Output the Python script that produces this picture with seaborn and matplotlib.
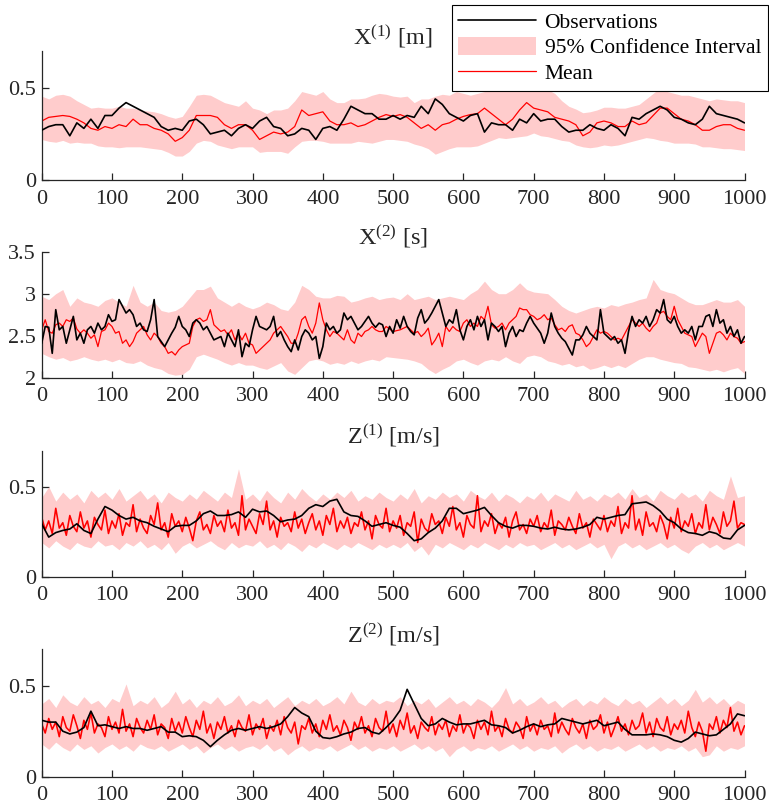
import numpy as np
import matplotlib
matplotlib.use("Agg")
import matplotlib.pyplot as plt
import seaborn as sns
from matplotlib.patches import Patch
from matplotlib.lines import Line2D

# ---------------- data ----------------
t10 = np.arange(0, 1001, 10)
t5 = np.arange(0, 1001, 5)

# X(1) [m]
x1_obs = [0.27, 0.29, 0.30, 0.30, 0.24, 0.31, 0.28, 0.33, 0.28, 0.35,
          0.35, 0.39, 0.42, 0.40, 0.38, 0.36, 0.34, 0.29, 0.27, 0.28,
          0.27, 0.32, 0.33, 0.30, 0.25, 0.26, 0.27, 0.24, 0.28, 0.30,
          0.28, 0.32, 0.34, 0.29, 0.28, 0.24, 0.25, 0.28, 0.27, 0.22,
          0.28, 0.29, 0.27, 0.33, 0.40, 0.38, 0.36, 0.36, 0.33,
          0.33, 0.35, 0.33, 0.35, 0.34, 0.40, 0.36, 0.44, 0.41, 0.36,
          0.34, 0.32, 0.35, 0.36, 0.26, 0.31, 0.30, 0.30, 0.27, 0.33,
          0.31, 0.36, 0.32, 0.33, 0.33, 0.29, 0.26, 0.27, 0.27, 0.30,
          0.28, 0.27, 0.30, 0.28, 0.24, 0.34, 0.33, 0.36, 0.38, 0.40,
          0.38, 0.34, 0.33, 0.31, 0.30, 0.33, 0.40, 0.36, 0.35, 0.34,
          0.33, 0.31]
x1_mean = [0.32, 0.34, 0.345, 0.35, 0.345, 0.33, 0.31, 0.28, 0.27, 0.29,
           0.28, 0.30, 0.29, 0.33, 0.30, 0.30, 0.28, 0.27, 0.25, 0.21,
           0.23, 0.27, 0.35, 0.35, 0.35, 0.34, 0.30, 0.28, 0.30, 0.30,
           0.27, 0.22, 0.24, 0.26, 0.25, 0.26, 0.29, 0.38, 0.35, 0.36,
           0.37, 0.32, 0.30, 0.30, 0.31, 0.29, 0.30, 0.32, 0.34,
           0.355, 0.345, 0.355, 0.34, 0.31, 0.28, 0.30, 0.27, 0.30, 0.31,
           0.33, 0.345, 0.355, 0.36, 0.39, 0.36, 0.33, 0.30, 0.33, 0.38,
           0.42, 0.39, 0.38, 0.37, 0.34, 0.33, 0.32, 0.30, 0.24, 0.26,
           0.31, 0.32, 0.31, 0.29, 0.29, 0.32, 0.30, 0.31, 0.35, 0.39,
           0.39, 0.36, 0.33, 0.32, 0.30, 0.27, 0.27, 0.29, 0.30, 0.30,
           0.28, 0.27]
x1_hi = [0.455, 0.44, 0.46, 0.465, 0.455, 0.43, 0.41, 0.39, 0.395, 0.39,
         0.39, 0.40, 0.39, 0.39, 0.38, 0.375, 0.37, 0.36, 0.345, 0.335,
         0.345, 0.40, 0.46, 0.465, 0.46, 0.44, 0.42, 0.41, 0.40, 0.43,
         0.39, 0.38, 0.36, 0.38, 0.38, 0.39, 0.43, 0.48, 0.47, 0.46,
         0.48, 0.44, 0.42, 0.42, 0.44, 0.44, 0.445, 0.46, 0.47,
         0.465, 0.455, 0.45, 0.455, 0.42, 0.44, 0.44, 0.455, 0.465, 0.46,
         0.48, 0.47, 0.46, 0.47, 0.48, 0.49, 0.49, 0.50, 0.49, 0.50,
         0.51, 0.49, 0.50, 0.49, 0.47, 0.43, 0.40, 0.385, 0.365, 0.37,
         0.38, 0.395, 0.395, 0.39, 0.39, 0.40, 0.41, 0.44, 0.47, 0.50,
         0.48, 0.47, 0.46, 0.46, 0.45, 0.44, 0.43, 0.44, 0.435, 0.43,
         0.43, 0.42]
x1_lo = [0.22, 0.21, 0.205, 0.215, 0.20, 0.205, 0.20, 0.20, 0.185, 0.18,
         0.18, 0.175, 0.18, 0.18, 0.18, 0.175, 0.17, 0.165, 0.15, 0.13,
         0.13, 0.155, 0.20, 0.215, 0.21, 0.19, 0.18, 0.17, 0.18, 0.18,
         0.18, 0.15, 0.155, 0.155, 0.155, 0.145, 0.18, 0.21, 0.215, 0.215,
         0.21, 0.20, 0.20, 0.20, 0.20, 0.21, 0.205, 0.20, 0.21,
         0.22, 0.22, 0.215, 0.21, 0.195, 0.185, 0.17, 0.14, 0.155, 0.17,
         0.18, 0.18, 0.18, 0.185, 0.20, 0.215, 0.23, 0.225, 0.23, 0.235,
         0.24, 0.255, 0.24, 0.235, 0.225, 0.215, 0.21, 0.19, 0.18, 0.175,
         0.18, 0.19, 0.185, 0.19, 0.20, 0.21, 0.22, 0.23, 0.225, 0.215,
         0.21, 0.20, 0.20, 0.20, 0.195, 0.18, 0.18, 0.175, 0.17, 0.17,
         0.165, 0.16]

# X(2) [s]
x2_obs = [2.41, 2.61, 2.60, 2.29, 2.81, 2.57, 2.61, 2.41, 2.57, 2.73,
          2.45, 2.53, 2.41, 2.57, 2.61, 2.53, 2.65, 2.57, 2.61, 2.75,
          2.67, 2.69, 2.93, 2.85, 2.77, 2.81, 2.75, 2.61, 2.65, 2.57,
          2.55, 2.69, 2.93, 2.49, 2.43, 2.37, 2.45, 2.53, 2.60, 2.73,
          2.61, 2.57, 2.49, 2.65, 2.69, 2.65, 2.57, 2.61, 2.53, 2.45,
          2.47, 2.49, 2.37, 2.53, 2.45, 2.37, 2.57, 2.25, 2.41, 2.37,
          2.57, 2.73, 2.61, 2.59, 2.57, 2.61, 2.73, 2.49, 2.55, 2.45,
          2.37, 2.31, 2.45, 2.33, 2.49, 2.57, 2.53, 2.45, 2.49, 2.23,
          2.37, 2.65, 2.57, 2.61, 2.53, 2.57, 2.77, 2.69, 2.73, 2.65,
          2.57, 2.61, 2.67, 2.73, 2.65, 2.60, 2.65,
          2.63, 2.49, 2.61, 2.53, 2.69, 2.59, 2.73, 2.61, 2.55, 2.51,
          2.71, 2.81, 2.65, 2.70, 2.77, 2.85, 2.93, 2.77, 2.61, 2.69,
          2.65, 2.81, 2.57, 2.45, 2.61, 2.69, 2.57, 2.73, 2.61, 2.69,
          2.45, 2.65, 2.61, 2.55, 2.61, 2.37, 2.53, 2.61, 2.49, 2.57,
          2.55, 2.65, 2.73, 2.65, 2.59, 2.53, 2.41, 2.53, 2.77, 2.61,
          2.53, 2.47, 2.43, 2.35, 2.27, 2.45, 2.45, 2.51, 2.61, 2.53,
          2.49, 2.45, 2.81, 2.53, 2.49, 2.45, 2.49, 2.41, 2.45, 2.29,
          2.55, 2.73, 2.61, 2.69, 2.65, 2.73, 2.61, 2.69, 2.81, 2.77,
          2.93, 2.69, 2.65, 2.73, 2.61, 2.53, 2.57, 2.53, 2.61, 2.45,
          2.61, 2.61, 2.73, 2.75, 2.61, 2.81, 2.65, 2.69, 2.53, 2.61,
          2.49, 2.57, 2.41, 2.49]
x2_mean = [2.57, 2.69, 2.55, 2.53, 2.63, 2.65, 2.61, 2.69, 2.67, 2.71,
           2.58, 2.53, 2.57, 2.53, 2.47, 2.51, 2.37, 2.55, 2.57, 2.65,
           2.61, 2.53, 2.55, 2.41, 2.45, 2.37, 2.43, 2.53, 2.57, 2.61,
           2.51, 2.45, 2.53, 2.49, 2.41, 2.37, 2.29, 2.31, 2.27, 2.33,
           2.37, 2.39, 2.41, 2.61, 2.69, 2.71, 2.67, 2.69, 2.81, 2.63,
           2.59, 2.55, 2.57, 2.51, 2.57, 2.45, 2.53, 2.45, 2.53, 2.41,
           2.39, 2.29, 2.33, 2.37, 2.41, 2.45, 2.53, 2.57, 2.61, 2.55,
           2.49, 2.41, 2.41, 2.53, 2.69, 2.73, 2.61, 2.53, 2.65, 2.89,
           2.69, 2.57, 2.49, 2.55, 2.53, 2.49, 2.45, 2.57, 2.45, 2.41,
           2.53, 2.49, 2.55, 2.57, 2.61, 2.57, 2.55,
           2.55, 2.61, 2.58, 2.55, 2.56, 2.57, 2.59, 2.61, 2.57, 2.53,
           2.55, 2.49, 2.53, 2.59, 2.39, 2.45, 2.53, 2.37, 2.61, 2.55,
           2.61, 2.57, 2.55, 2.65, 2.69, 2.61, 2.65, 2.61, 2.73, 2.69,
           2.85, 2.63, 2.59, 2.61, 2.65, 2.57, 2.65, 2.69, 2.73, 2.83,
           2.81, 2.81, 2.75, 2.73, 2.69, 2.71, 2.75, 2.69, 2.71, 2.63,
           2.57, 2.59, 2.55, 2.61, 2.63, 2.53, 2.51, 2.45, 2.37, 2.41,
           2.49, 2.57, 2.53, 2.55, 2.53, 2.49, 2.45, 2.47, 2.45, 2.53,
           2.61, 2.69, 2.65, 2.61, 2.65, 2.59, 2.55, 2.61, 2.65, 2.77,
           2.79, 2.73, 2.69, 2.85, 2.69, 2.61, 2.53, 2.51, 2.49, 2.37,
           2.45, 2.53, 2.49, 2.29, 2.41, 2.53, 2.55, 2.51, 2.45, 2.53,
           2.49, 2.47, 2.41, 2.43]
x2_hi = [2.97, 2.93, 3.00, 3.05, 2.85, 2.95, 2.90, 2.88, 2.85, 2.92,
         2.95, 2.90, 2.85, 3.10, 2.90, 2.85, 2.90, 2.80, 2.78, 2.80,
         2.85, 2.95, 3.05, 3.05, 3.09, 2.95, 2.90, 2.85, 2.90, 2.85,
         2.82, 2.85, 2.90, 2.87, 2.82, 2.80, 2.90, 3.10, 3.05, 2.97,
         2.95, 2.95, 2.98, 2.97, 2.90, 2.92, 2.95, 2.97, 2.93,
         2.95, 2.96, 2.93, 3.00, 2.93, 2.95, 2.97, 2.93, 2.95, 2.97,
         2.95, 2.93, 3.00, 3.05, 3.15, 3.05, 3.00, 3.00, 3.05, 3.13,
         3.05, 3.02, 3.01, 3.00, 2.93, 2.85, 2.80, 2.77, 2.80, 2.83,
         2.85, 2.83, 2.87, 2.85, 2.88, 2.90, 2.93, 2.95, 3.17, 3.05,
         3.02, 3.00, 2.95, 2.90, 2.87, 2.87, 2.90, 2.93, 2.90, 2.90,
         2.93, 2.85]
x2_lo = [2.29, 2.25, 2.22, 2.24, 2.20, 2.22, 2.25, 2.22, 2.20, 2.22,
         2.19, 2.22, 2.18, 2.17, 2.20, 2.15, 2.12, 2.10, 2.05, 2.03,
         2.04, 2.10, 2.25, 2.28, 2.25, 2.22, 2.18, 2.15, 2.18, 2.15,
         2.15, 2.12, 2.10, 2.14, 2.18, 2.08, 2.04, 2.12, 2.20, 2.22,
         2.20, 2.16, 2.18, 2.16, 2.20, 2.17, 2.20, 2.22, 2.20,
         2.25, 2.24, 2.23, 2.22, 2.20, 2.17, 2.10, 2.05, 2.10, 2.14,
         2.20, 2.22, 2.18, 2.15, 2.20, 2.22, 2.20, 2.25, 2.20, 2.17,
         2.25, 2.27, 2.25, 2.20, 2.18, 2.15, 2.17, 2.13, 2.15, 2.10,
         2.12, 2.15, 2.12, 2.15, 2.12, 2.17, 2.22, 2.25, 2.25, 2.22,
         2.20, 2.18, 2.17, 2.13, 2.12, 2.10, 2.08, 2.10, 2.07, 2.10,
         2.12, 2.05]

# Z(1) [m/s]
z1_obs = [0.294, 0.22, 0.245, 0.257, 0.265, 0.294, 0.257, 0.24, 0.32, 0.39,
          0.37, 0.34, 0.32, 0.33, 0.31, 0.30, 0.28, 0.265, 0.25, 0.28,
          0.285, 0.285, 0.31, 0.35, 0.365, 0.34, 0.34, 0.345, 0.36, 0.33,
          0.375, 0.36, 0.365, 0.34, 0.305, 0.315, 0.32, 0.34, 0.38, 0.40,
          0.39, 0.42, 0.43, 0.36, 0.34, 0.335, 0.31, 0.28, 0.29,
          0.30, 0.285, 0.275, 0.24, 0.20, 0.21, 0.245, 0.27, 0.31, 0.38,
          0.38, 0.35, 0.36, 0.37, 0.385, 0.34, 0.30, 0.28, 0.27, 0.285,
          0.285, 0.28, 0.27, 0.265, 0.275, 0.265, 0.26, 0.265, 0.275, 0.29,
          0.33, 0.32, 0.33, 0.34, 0.345, 0.405, 0.41, 0.415, 0.395, 0.365,
          0.32, 0.30, 0.265, 0.245, 0.24, 0.23, 0.25, 0.24, 0.215, 0.21,
          0.26, 0.285]
z1_mean = [0.33, 0.26, 0.31, 0.24, 0.38, 0.27, 0.30, 0.23, 0.34, 0.28,
           0.25, 0.36, 0.27, 0.31, 0.22, 0.33, 0.29, 0.26, 0.37, 0.24,
           0.31, 0.27, 0.35, 0.23, 0.30, 0.28, 0.40, 0.25, 0.32, 0.27,
           0.24, 0.34, 0.29, 0.41, 0.26, 0.30, 0.22, 0.35, 0.28, 0.31,
           0.25, 0.33, 0.27, 0.20, 0.31, 0.36, 0.26, 0.29, 0.24, 0.34,
           0.28, 0.31, 0.25, 0.37, 0.27, 0.30, 0.23, 0.45, 0.26, 0.32,
           0.28, 0.24, 0.35, 0.29, 0.42, 0.26, 0.31, 0.22, 0.33, 0.28,
           0.30, 0.25, 0.36, 0.27, 0.32, 0.24, 0.30, 0.35, 0.26, 0.31,
           0.23, 0.34, 0.29, 0.38, 0.25, 0.31, 0.27, 0.33, 0.24, 0.30,
           0.28, 0.36, 0.26, 0.31, 0.21, 0.34, 0.29, 0.27, 0.38, 0.25,
           0.31, 0.27, 0.34, 0.23, 0.30, 0.28, 0.36, 0.19, 0.32, 0.27,
           0.25, 0.35, 0.29, 0.31, 0.24, 0.33, 0.28, 0.39, 0.26, 0.30,
           0.22, 0.34, 0.29, 0.27, 0.45, 0.25, 0.31, 0.28, 0.35, 0.24,
           0.30, 0.27, 0.33, 0.22, 0.31, 0.36, 0.26, 0.29, 0.24, 0.32,
           0.28, 0.34, 0.25, 0.30, 0.27, 0.37, 0.23, 0.31, 0.29, 0.26,
           0.33, 0.28, 0.24, 0.35, 0.27, 0.30, 0.22, 0.32, 0.29, 0.26,
           0.34, 0.25, 0.31, 0.28, 0.39, 0.24, 0.30, 0.27, 0.45, 0.26,
           0.32, 0.23, 0.36, 0.28, 0.30, 0.25, 0.34, 0.29, 0.21, 0.33,
           0.27, 0.38, 0.25, 0.31, 0.28, 0.35, 0.24, 0.30, 0.27, 0.40,
           0.26, 0.33, 0.29, 0.24, 0.36, 0.28, 0.31, 0.42, 0.27, 0.30,
           0.29]
z1_hi = [0.44, 0.50, 0.42, 0.47, 0.43, 0.46, 0.41, 0.48, 0.44, 0.47,
         0.43, 0.49, 0.42, 0.45, 0.48, 0.43, 0.46, 0.41, 0.47, 0.44,
         0.42, 0.46, 0.43, 0.48, 0.45, 0.42, 0.47, 0.44, 0.60, 0.43,
         0.46, 0.42, 0.48, 0.44, 0.41, 0.47, 0.43, 0.49, 0.45, 0.42,
         0.46, 0.43, 0.47, 0.44, 0.48, 0.42, 0.45, 0.43, 0.47, 0.44,
         0.42, 0.46, 0.43, 0.49, 0.41, 0.45, 0.43, 0.47, 0.44, 0.46,
         0.42, 0.48, 0.45, 0.43, 0.47, 0.42, 0.46, 0.44, 0.41, 0.45,
         0.43, 0.47, 0.42, 0.46, 0.44, 0.42, 0.48, 0.43, 0.45, 0.42,
         0.46, 0.44, 0.47, 0.43, 0.49, 0.44, 0.46, 0.42, 0.48, 0.45,
         0.43, 0.47, 0.44, 0.46, 0.42, 0.48, 0.45, 0.43, 0.56, 0.44,
         0.45]
z1_lo = [0.19, 0.16, 0.20, 0.17, 0.15, 0.19, 0.17, 0.16, 0.20, 0.17,
         0.18, 0.15, 0.19, 0.17, 0.20, 0.16, 0.18, 0.15, 0.19, 0.13,
         0.17, 0.19, 0.16, 0.18, 0.20, 0.17, 0.15, 0.19, 0.16, 0.18,
         0.17, 0.20, 0.16, 0.18, 0.15, 0.19, 0.17, 0.14, 0.18, 0.16,
         0.19, 0.17, 0.15, 0.18, 0.16, 0.19, 0.17, 0.15, 0.18, 0.16,
         0.18, 0.16, 0.19, 0.14, 0.17, 0.12, 0.18, 0.16, 0.19, 0.17,
         0.15, 0.18, 0.16, 0.19, 0.17, 0.15, 0.18, 0.16, 0.19, 0.17,
         0.18, 0.15, 0.17, 0.19, 0.16, 0.18, 0.15, 0.17, 0.19, 0.16,
         0.18, 0.10, 0.17, 0.19, 0.16, 0.18, 0.15, 0.17, 0.19, 0.16,
         0.18, 0.15, 0.13, 0.17, 0.19, 0.16, 0.18, 0.15, 0.17, 0.19,
         0.17]

# Z(2) [m/s]
z2_obs = [0.31, 0.30, 0.30, 0.25, 0.235, 0.245, 0.27, 0.36, 0.28, 0.285,
          0.275, 0.265, 0.275, 0.265, 0.265, 0.255, 0.265, 0.275, 0.245, 0.245,
          0.22, 0.225, 0.22, 0.20, 0.165, 0.20, 0.23, 0.255, 0.265, 0.255,
          0.265, 0.275, 0.265, 0.275, 0.29, 0.33, 0.38, 0.35, 0.33, 0.25,
          0.215, 0.21, 0.22, 0.235, 0.245, 0.265, 0.27, 0.245, 0.235,
          0.27, 0.31, 0.365, 0.48, 0.40, 0.32, 0.28, 0.29, 0.32, 0.30,
          0.285, 0.29, 0.29, 0.30, 0.31, 0.285, 0.28, 0.27, 0.24, 0.255,
          0.275, 0.29, 0.275, 0.285, 0.29, 0.32, 0.31, 0.30, 0.29, 0.30,
          0.31, 0.28, 0.29, 0.30, 0.26, 0.23, 0.23, 0.23, 0.235, 0.23,
          0.22, 0.20, 0.19, 0.21, 0.245, 0.235, 0.225, 0.23, 0.26, 0.29,
          0.345, 0.335]
z2_mean = [0.29, 0.24, 0.32, 0.26, 0.30, 0.22, 0.33, 0.27, 0.25, 0.34,
           0.28, 0.21, 0.31, 0.26, 0.35, 0.24, 0.29, 0.27, 0.22, 0.33,
           0.26, 0.30, 0.24, 0.37, 0.25, 0.29, 0.22, 0.32, 0.27, 0.24,
           0.31, 0.26, 0.34, 0.23, 0.29, 0.27, 0.21, 0.32, 0.25, 0.30,
           0.24, 0.33, 0.27, 0.22, 0.31, 0.26, 0.36, 0.24, 0.29, 0.21,
           0.30, 0.26, 0.33, 0.24, 0.28, 0.22, 0.31, 0.27, 0.25, 0.34,
           0.23, 0.29, 0.26, 0.32, 0.21, 0.28, 0.25, 0.31, 0.23, 0.33,
           0.27, 0.24, 0.30, 0.18, 0.28, 0.26, 0.32, 0.24, 0.29, 0.22,
           0.31, 0.26, 0.34, 0.25, 0.28, 0.23, 0.31, 0.27, 0.20, 0.30,
           0.26, 0.33, 0.24, 0.28, 0.22, 0.32, 0.27, 0.25, 0.36, 0.24,
           0.29, 0.22, 0.31, 0.26, 0.35, 0.24, 0.28, 0.21, 0.30, 0.27,
           0.25, 0.33, 0.23, 0.29, 0.26, 0.31, 0.22, 0.28, 0.25, 0.34,
           0.24, 0.29, 0.27, 0.21, 0.31, 0.26, 0.30, 0.23, 0.36, 0.25,
           0.28, 0.22, 0.32, 0.26, 0.24, 0.30, 0.27, 0.21, 0.33, 0.25,
           0.29, 0.23, 0.31, 0.26, 0.28, 0.22, 0.35, 0.24, 0.30, 0.26,
           0.23, 0.32, 0.27, 0.24, 0.29, 0.21, 0.31, 0.26, 0.28, 0.34,
           0.24, 0.30, 0.22, 0.27, 0.33, 0.25, 0.29, 0.23, 0.31, 0.26,
           0.28, 0.35, 0.24, 0.30, 0.22, 0.32, 0.27, 0.25, 0.33, 0.23,
           0.29, 0.26, 0.31, 0.24, 0.36, 0.27, 0.22, 0.30, 0.25, 0.14,
           0.29, 0.26, 0.33, 0.24, 0.31, 0.27, 0.38, 0.25, 0.30, 0.23,
           0.28]
z2_hi = [0.40, 0.43, 0.38, 0.45, 0.41, 0.39, 0.44, 0.40, 0.42, 0.38,
         0.43, 0.41, 0.51, 0.39, 0.42, 0.40, 0.44, 0.38, 0.41, 0.47,
         0.40, 0.43, 0.38, 0.42, 0.40, 0.44, 0.39, 0.41, 0.45, 0.39,
         0.42, 0.40, 0.43, 0.38, 0.41, 0.44, 0.39, 0.42, 0.40, 0.43,
         0.39, 0.41, 0.44, 0.40, 0.47, 0.41, 0.39, 0.43, 0.40, 0.42,
         0.41, 0.44, 0.39, 0.42, 0.40, 0.43, 0.38, 0.41, 0.44, 0.40,
         0.42, 0.39, 0.43, 0.41, 0.38, 0.42, 0.49, 0.40, 0.43, 0.39,
         0.41, 0.44, 0.40, 0.42, 0.38, 0.41, 0.43, 0.39, 0.42, 0.40,
         0.44, 0.41, 0.39, 0.43, 0.40, 0.42, 0.38, 0.41, 0.44, 0.40,
         0.43, 0.39, 0.42, 0.48, 0.41, 0.44, 0.40, 0.43, 0.39, 0.42,
         0.40]
z2_lo = [0.18, 0.15, 0.19, 0.16, 0.14, 0.18, 0.15, 0.17, 0.13, 0.16,
         0.18, 0.15, 0.17, 0.14, 0.18, 0.16, 0.15, 0.17, 0.14, 0.16,
         0.18, 0.15, 0.17, 0.13, 0.16, 0.18, 0.15, 0.17, 0.14, 0.16,
         0.17, 0.15, 0.18, 0.14, 0.16, 0.12, 0.15, 0.17, 0.14, 0.16,
         0.15, 0.17, 0.14, 0.16, 0.18, 0.15, 0.17, 0.14, 0.16, 0.15,
         0.17, 0.14, 0.16, 0.18, 0.15, 0.17, 0.14, 0.16, 0.11, 0.15,
         0.17, 0.14, 0.16, 0.15, 0.17, 0.14, 0.16, 0.18, 0.15, 0.17,
         0.14, 0.16, 0.15, 0.17, 0.13, 0.16, 0.18, 0.15, 0.17, 0.14,
         0.16, 0.15, 0.17, 0.14, 0.16, 0.18, 0.15, 0.17, 0.14, 0.16,
         0.15, 0.17, 0.14, 0.16, 0.11, 0.12, 0.17, 0.14, 0.16, 0.15,
         0.17]

titles = [r"X$^{\mathrm{(1)}}$ [m]", r"X$^{\mathrm{(2)}}$ [s]",
          r"Z$^{\mathrm{(1)}}$ [m/s]", r"Z$^{\mathrm{(2)}}$ [m/s]"]
x_ticks = list(range(0, 1001, 100))
y_ticks = [[0, 0.5], [2, 2.5, 3, 3.5], [0, 0.5], [0, 0.5]]
y_ticklabels = [["0", "0.5"], ["2", "2.5", "3", "3.5"], ["0", "0.5"], ["0", "0.5"]]
y_limits = [(0, 0.7), (2, 3.5), (0, 0.7), (0, 0.7)]
legend_labels = ["Observations", "95% Confidence Interval", "Mean"]

# ---------------- styling ----------------
sns.set_theme(style="ticks")
plt.rcParams["font.family"] = ["Liberation Serif", "DejaVu Serif"]
plt.rcParams["mathtext.fontset"] = "custom"
plt.rcParams["mathtext.rm"] = "Liberation Serif"
plt.rcParams["mathtext.it"] = "Liberation Serif:italic"
plt.rcParams["mathtext.bf"] = "Liberation Serif:bold"

CI_COLOR = "#FFCCCC"
MEAN_COLOR = "#FF0000"
OBS_COLOR = "#000000"
AX_COLOR = "#262626"

W, H = 769, 809
fig = plt.figure(figsize=(W / 100, H / 100), dpi=100)

# axes boxes in pixels: (left, top, right, bottom)
boxes = [(41.7, 51, 744.5, 180), (41.7, 251.7, 744.5, 377.7),
         (41.7, 450.7, 744.5, 576.7), (41.7, 649.3, 744.5, 776.7)]
mean_widths = [0.9, 0.9, 1.15, 1.15]

series = [
    (t10, x1_obs, t10, x1_mean, t10, x1_lo, x1_hi),
    (t5, x2_obs, t5, x2_mean, t10, x2_lo, x2_hi),
    (t10, z1_obs, t5, z1_mean, t10, z1_lo, z1_hi),
    (t10, z2_obs, t5, z2_mean, t10, z2_lo, z2_hi),
]

for i, (box, ser) in enumerate(zip(boxes, series)):
    l, t, r, b = box
    ax = fig.add_axes([l / W, 1 - b / H, (r - l) / W, (b - t) / H])
    to, obs, tm, mean, tc, lo, hi = ser
    ax.fill_between(tc, lo, hi, color=CI_COLOR, lw=0, zorder=1)
    sns.lineplot(x=tm, y=mean, ax=ax, color=MEAN_COLOR, lw=mean_widths[i], zorder=2)
    sns.lineplot(x=to, y=obs, ax=ax, color=OBS_COLOR, lw=1.2, zorder=3)
    ax.set_xlim(0, 1000)
    ax.set_ylim(*y_limits[i])
    ax.set_xticks(x_ticks)
    ax.set_xticklabels([str(v) for v in x_ticks])
    ax.set_yticks(y_ticks[i])
    ax.set_yticklabels(y_ticklabels[i])
    ax.set_xlabel("")
    ax.set_ylabel("")
    for s in ["top", "right"]:
        ax.spines[s].set_visible(False)
    for s in ["left", "bottom"]:
        ax.spines[s].set_color(AX_COLOR)
        ax.spines[s].set_linewidth(0.9)
    ax.tick_params(axis="both", direction="in", length=5, width=0.9,
                   color=AX_COLOR, labelcolor=AX_COLOR, labelsize=16)
    ax.tick_params(axis="x", pad=7)
    ax.tick_params(axis="y", pad=4)
    ax.set_title(titles[i], fontsize=17.5, color=AX_COLOR, pad=5)

handles = [Line2D([], [], color=OBS_COLOR, lw=1.2),
           Patch(facecolor=CI_COLOR, edgecolor="none"),
           Line2D([], [], color=MEAN_COLOR, lw=0.9)]
leg = fig.legend(handles, legend_labels, loc="upper right",
                 bbox_to_anchor=(767.5 / W, 1 - 5 / H), frameon=True,
                 fancybox=False, edgecolor="black", framealpha=1,
                 fontsize=15.5, handlelength=3.6, handleheight=0.9,
                 handletextpad=0.4, labelspacing=0.2, borderpad=0.3,
                 borderaxespad=0)
leg.get_frame().set_linewidth(0.8)
for txt in leg.get_texts():
    txt.set_color("black")

fig.savefig("out.png", dpi=100)
